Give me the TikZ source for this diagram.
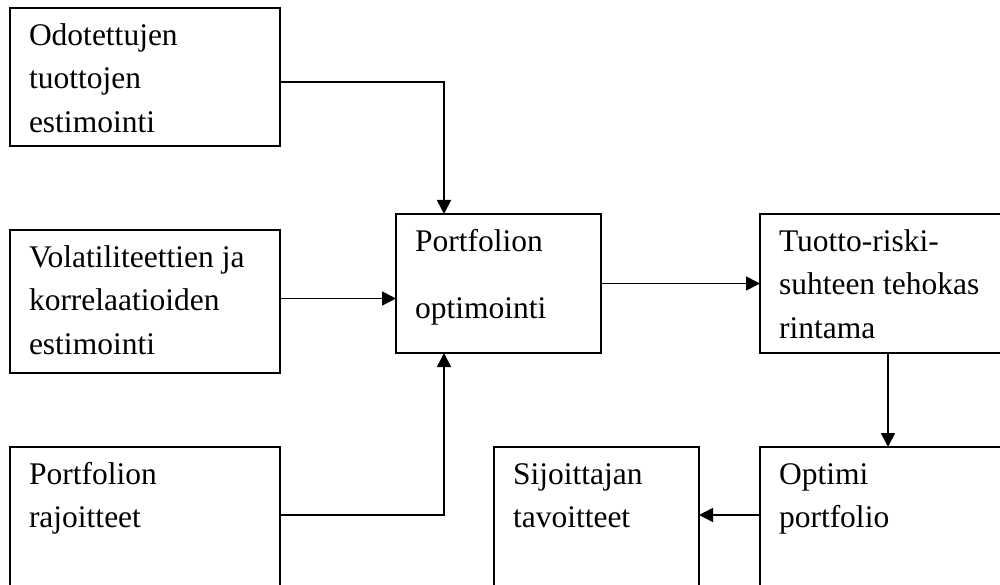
\documentclass[tikz,border=0pt]{standalone}
\usepackage{fontspec}
\setmainfont{Liberation Serif}
\usepackage{tikz}
\usetikzlibrary{arrows.meta, positioning, calc}
\newcommand{\boxlines}[3]{\parbox[t][#2][t]{#1}{\raggedright\strut#3}}
\tikzset{
  stagebox/.style={draw, line width=1.9pt, anchor=north west, outer sep=0pt, inner xsep=19pt, inner ysep=7pt, font=\fontsize{31.5}{43.5}\selectfont},
  flow/.style={line width=1.6pt, -{Triangle[length=14pt, width=14pt]}}
}

\begin{document}
\begin{tikzpicture}[x=1pt, y=-1pt]
    \path[use as bounding box, clip] (0,0) rectangle (1000,585);
    % Input estimates
    \node[stagebox] (odot) at (10,8) {\boxlines{232pt}{124pt}{Odotettujen\\tuottojen\\estimointi}};
    \node[stagebox] (vol) at (10,230) {\boxlines{232pt}{129pt}{Volatiliteettien ja\\korrelaatioiden\\estimointi}};
    \node[stagebox] (rajo) at (10,447) {\boxlines{232pt}{129pt}{Portfolion\\rajoitteet}};
    % Optimisation chain
    \node[stagebox] (opt) at (396,214) {\boxlines{167pt}{125pt}{Portfolion\\[23.5pt]optimointi}};
    \node[stagebox] (tuot) at (760,214) {\boxlines{218pt}{125pt}{Tuotto-riski-\\suhteen tehokas\\rintama}};
    \node[stagebox] (optimi) at (760,447) {\boxlines{218pt}{129pt}{Optimi\\portfolio}};
    \node[stagebox] (sijo) at (494,447) {\boxlines{167pt}{129pt}{Sijoittajan\\tavoitteet}};
    % Connectors
    \draw[flow] ([yshift=-5pt]odot.east) -| ([xshift=48pt]opt.north west);
    \draw[flow] ([yshift=3pt]vol.east) -- ([yshift=3pt]vol.east -| opt.west);
    \draw[flow] ([yshift=3.5pt]rajo.east) -| ([xshift=48pt]opt.south west);
    \draw[flow] (opt) -- (tuot);
    \draw[flow] (tuot.south) -- (optimi.north);
    \draw[flow] ([yshift=3.5pt]optimi.west) -- ([yshift=3.5pt]optimi.west -| sijo.east);
\end{tikzpicture}
\end{document}
